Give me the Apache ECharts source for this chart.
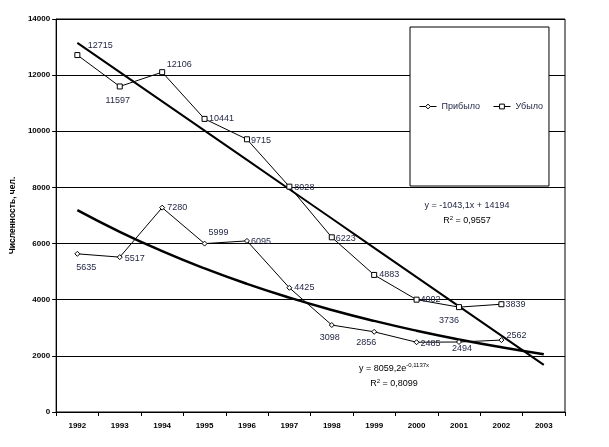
<!DOCTYPE html>
<html>
<head>
<meta charset="utf-8">
<script src="https://cdn.jsdelivr.net/npm/echarts@6/dist/echarts.min.js"></script>
<style>
  html, body { margin: 0; padding: 0; background: #fff; }
  #chart { width: 609px; height: 447px; }
</style>
</head>
<body>
<div id="chart"></div>
<script>
const years = ['1992', '1993', '1994', '1995', '1996', '1997', '1998', '1999', '2000', '2001', '2002', '2003'];
const arrived = [5635, 5517, 7280, 5999, 6095, 4425, 3098, 2856, 2485, 2494, 2562, null];
const departed = [12715, 11597, 12106, 10441, 9715, 8028, 6223, 4883, 4002, 3736, 3839, null];
// trend values as shown in the picture (Excel trendlines)
const departedTrend = [13151, 12108, 11065, 10022, 8979, 7935, 6892, 5849, 4806, 3763, 2720, 1677];
const arrivedTrend = [7193, 6420, 5730, 5114, 4564, 4074, 3636, 3245, 2896, 2585, 2307, 2059];

// label offsets from the marker (px)
const arrivedLabelOffset = [[9, 14], [15, 1], [15, 0], [14, -11], [14, 1], [15, 0], [-2, 12], [-8, 11], [14, 1], [3, 7], [15, -5], [0, 0]];
const departedLabelOffset = [[23, -10], [-2, 14], [17, -8], [17, 0], [14, 1], [15, 1], [14, 1], [15, 0], [14, 0], [-10, 13], [14, 0], [0, 0]];

const font = '"Liberation Sans", Arial, sans-serif';
const labelColor = '#1e2340';

function withLabels(values, offsets) {
    return values.map((v, i) => ({
        value: v,
        label: { offset: offsets[i] }
    }));
}

var myChart = echarts.init(document.getElementById('chart'));
var option = {
    animation: false,
    textStyle: { fontFamily: font },
    grid: {
        left: 53, right: 44, top: 19, bottom: 35,
        show: true, borderColor: '#000', borderWidth: 1
    },
    legend: {
        data: ['Прибыло', 'Убыло'],
        left: 410, top: 27,
        padding: [75, 6, 75, 9],
        itemGap: 13,
        itemWidth: 17, itemHeight: 6,
        backgroundColor: '#fff',
        borderColor: '#000', borderWidth: 1,
        lineStyle: { width: 1 },
        itemStyle: { borderWidth: 1 },
        textStyle: { fontSize: 9, color: labelColor, fontFamily: font }
    },
    xAxis: {
        type: 'category',
        data: years,
        boundaryGap: true,
        axisLine: { lineStyle: { color: '#000', width: 1 } },
        axisTick: { show: true, length: 4, lineStyle: { color: '#000' } },
        axisLabel: { fontSize: 8, fontWeight: 'bold', color: '#000', margin: 10, interval: 0 }
    },
    yAxis: {
        type: 'value',
        min: 0, max: 14000, interval: 2000,
        name: 'Численность, чел.',
        nameLocation: 'middle',
        nameRotate: 90,
        nameGap: 33,
        nameTextStyle: { fontSize: 8.5, fontWeight: 'bold', color: '#000' },
        axisLine: { show: true, lineStyle: { color: '#000', width: 1 } },
        axisTick: { show: true, length: 4, lineStyle: { color: '#000' } },
        axisLabel: {
            fontSize: 8, fontWeight: 'bold', color: '#000', margin: 6,
            formatter: (v) => String(v)
        },
        splitLine: { lineStyle: { color: '#000', width: 1 } }
    },
    series: [
        {
            name: 'Прибыло',
            type: 'line',
            data: withLabels(arrived, arrivedLabelOffset),
            symbol: 'diamond',
            symbolSize: 5,
            itemStyle: { color: '#fff', borderColor: '#000', borderWidth: 1 },
            lineStyle: { color: '#000', width: 1 },
            label: { show: true, position: 'inside', fontSize: 9, color: labelColor },
            z: 3
        },
        {
            name: 'Убыло',
            type: 'line',
            data: withLabels(departed, departedLabelOffset),
            symbol: 'rect',
            symbolSize: 5,
            itemStyle: { color: '#fff', borderColor: '#000', borderWidth: 1 },
            lineStyle: { color: '#000', width: 1 },
            label: { show: true, position: 'inside', fontSize: 9, color: labelColor },
            z: 3
        },
        {
            name: 'Линейная (Убыло)',
            type: 'line',
            data: departedTrend,
            showSymbol: false,
            silent: true,
            lineStyle: { color: '#000', width: 2 },
            z: 2
        },
        {
            name: 'Экспоненциальная (Прибыло)',
            type: 'line',
            data: arrivedTrend,
            smooth: true,
            showSymbol: false,
            silent: true,
            lineStyle: { color: '#000', width: 2.5 },
            z: 2
        }
    ],
    graphic: [
        {
            type: 'text', x: 467, y: 206,
            style: { text: 'y = -1043,1x + 14194', font: '9px ' + font, fill: labelColor, align: 'center', verticalAlign: 'middle' }
        },
        {
            type: 'text', x: 467, y: 221,
            style: {
                text: '{n|R}{s|2}{n| = 0,9557}',
                align: 'center', verticalAlign: 'middle',
                rich: {
                    n: { fontSize: 9, fontFamily: font, color: labelColor },
                    s: { fontSize: 6, fontFamily: font, color: labelColor, padding: [0, 0, 6, 0] }
                }
            }
        },
        {
            type: 'text', x: 394, y: 369,
            style: {
                text: '{n|y = 8059,2e}{s|-0,1137x}',
                align: 'center', verticalAlign: 'middle',
                rich: {
                    n: { fontSize: 9, fontFamily: font, color: labelColor },
                    s: { fontSize: 6, fontFamily: font, color: labelColor, padding: [0, 0, 7, 0] }
                }
            }
        },
        {
            type: 'text', x: 394, y: 384,
            style: {
                text: '{n|R}{s|2}{n| = 0,8099}',
                align: 'center', verticalAlign: 'middle',
                rich: {
                    n: { fontSize: 9, fontFamily: font, color: labelColor },
                    s: { fontSize: 6, fontFamily: font, color: labelColor, padding: [0, 0, 6, 0] }
                }
            }
        }
    ]
};

option && myChart.setOption(option);
</script>
</body>
</html>
